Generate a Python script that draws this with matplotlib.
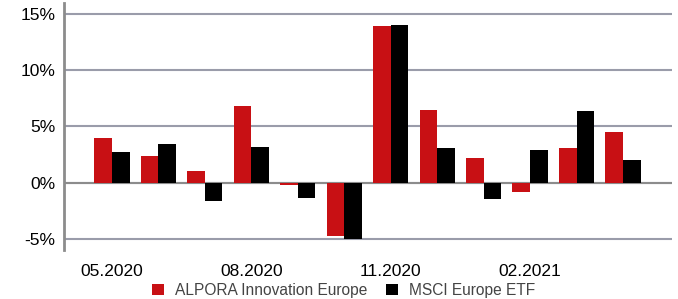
import numpy as np
import matplotlib.pyplot as plt

plt.rcParams['font.family'] = ['Liberation Sans', 'DejaVu Sans']

months = ['05.2020', '06.2020', '07.2020', '08.2020', '09.2020', '10.2020',
          '11.2020', '12.2020', '01.2021', '02.2021', '03.2021', '04.2021']
alpora = [4.0, 2.4, 1.0, 6.8, -0.25, -4.8, 13.95, 6.5, 2.2, -0.8, 3.1, 4.5]
msci = [2.75, 3.4, -1.6, 3.2, -1.4, -5.05, 14.05, 3.1, -1.5, 2.9, 6.4, 2.0]
labels = ['ALPORA Innovation Europe', 'MSCI Europe ETF']
colors = ['#c81014', '#000000']

fig = plt.figure(figsize=(6.78, 2.99), dpi=100)
ax = fig.add_axes([0.0944, 0.164, 0.8966, 0.826])

x = np.arange(len(months))
w = 0.38
ax.bar(x - w/2, alpora, w, color=colors[0], label=labels[0], zorder=3)
ax.bar(x + w/2, msci, w, color=colors[1], label=labels[1], zorder=3)

ax.set_xlim(-1.03, 12.05)
ax.set_ylim(-6.0, 16.0)
ax.set_yticks([-5, 0, 5, 10, 15])
ax.set_yticklabels(['-5%', '0%', '5%', '10%', '15%'])
ax.set_xticks(x[::3])
ax.set_xticklabels(months[::3])
ax.tick_params(length=0, labelsize=12.5, colors='black')
ax.tick_params(axis='x', pad=10)
ax.tick_params(axis='y', pad=6)

ax.grid(axis='y', color='#9a9caa', lw=1.5, zorder=0)
ax.axhline(0, color='#8c8c8c', lw=1.5, zorder=2)
for s in ['top', 'right', 'bottom']:
    ax.spines[s].set_visible(False)
ax.spines['left'].set_color('#8c8c8c')
ax.spines['left'].set_linewidth(2)

leg = fig.legend(loc='center', bbox_to_anchor=(343.5 / 678, 1 - 290.5 / 299),
                 bbox_transform=fig.transFigure, ncol=2, frameon=False,
                 fontsize=11.2, handlelength=0.78, handleheight=0.78,
                 handletextpad=0.65, columnspacing=1.25, borderpad=0)
for t in leg.get_texts():
    t.set_color('#444444')

fig.savefig('out.png', dpi=100)
